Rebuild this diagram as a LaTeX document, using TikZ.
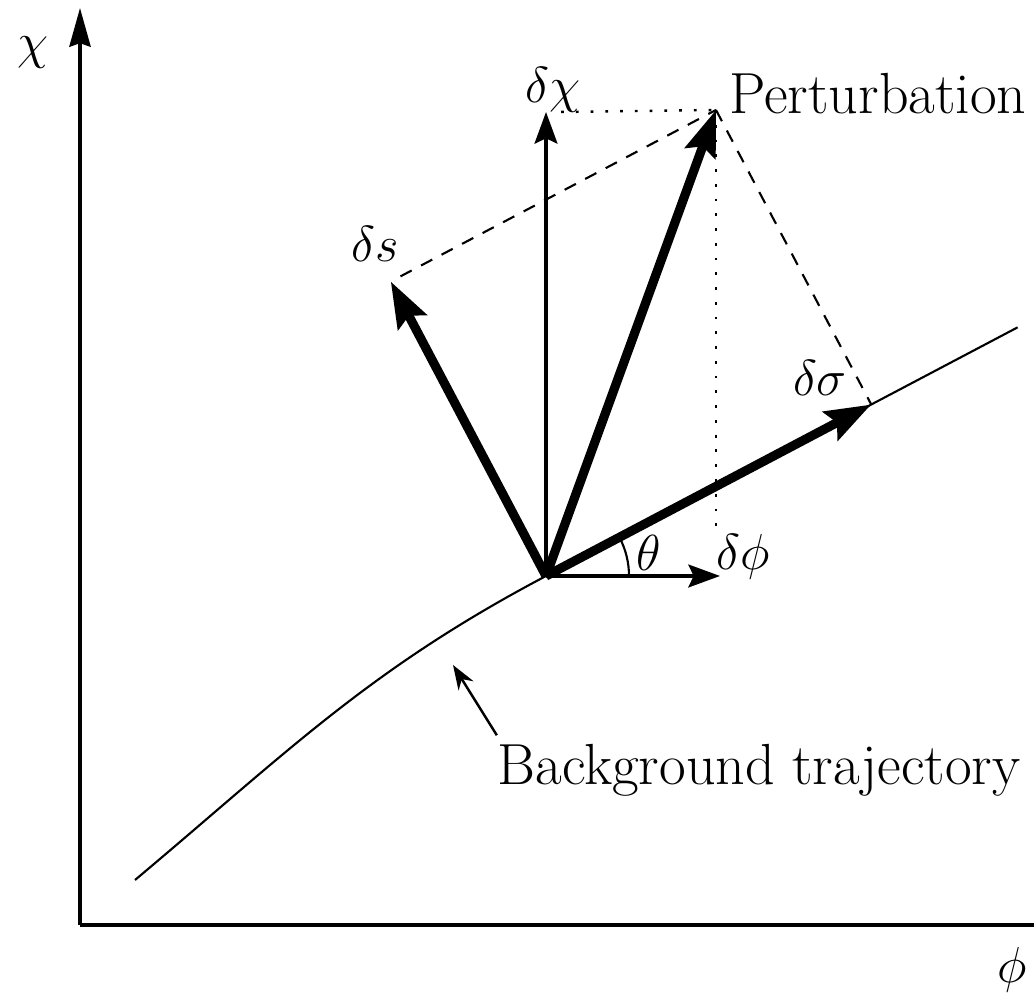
\documentclass[tikz,border=0pt]{standalone}
\usetikzlibrary{arrows.meta,calc,positioning}

\begin{document}
\begin{tikzpicture}[
    axis/.style={-{Stealth[length=11pt,width=6pt,inset=1pt]}, line width=1.1pt},
    thinvec/.style={-{Stealth[length=9pt,width=6.5pt,inset=1.5pt]}, line width=1pt},
    thickvec/.style={-{Stealth[length=13pt,width=9pt,inset=2pt]}, line width=2.6pt},
    proj/.style={dash pattern=on 3.6pt off 3pt, line width=0.6pt},
    dotline/.style={dash pattern=on 0.8pt off 3.4pt, line width=0.7pt},
    traj/.style={line width=0.6pt},
    pointer/.style={-{Stealth[length=7pt,width=5pt]}, line width=0.7pt},
    lbl/.style={font=\fontsize{15}{18}\selectfont, inner sep=0pt},
    txt/.style={font=\fontsize{16.5}{19}\selectfont, inner sep=0pt}
]

% Frame
\useasboundingbox (0,0) rectangle (10.34,9.94);
\clip (0,0) rectangle (10.34,9.94);

% Axes
\coordinate (orig) at (0.80,0.69);
\coordinate (ytop) at (0.80,9.86);
\coordinate (xend) at (10.90,0.69);
\draw[axis] (orig) -- (ytop);
\draw[axis] (orig) -- (xend);
\node[lbl] (chilbl) at (0.33,9.41) {$\chi$};
\node[lbl] (philbl) at (10.12,0.24) {$\phi$};

% Base point and perturbation
\coordinate (O) at (5.46,4.18);
\coordinate (P) at (7.16,8.84);
\coordinate (dchi) at (5.46,8.82);
\coordinate (dphi) at (7.20,4.18);
\coordinate (sigdir) at ($(O)+(27.8:1)$);
\coordinate (sdir) at ($(O)+(117.8:1)$);
\coordinate (dsig) at ($(O)!(P)!(sigdir)$);
\coordinate (ds) at ($(O)!(P)!(sdir)$);

% Background trajectory
\coordinate (trstart) at (1.35,1.14);
\draw[traj] (trstart) to[out=40,in=207.8] (O) -- ($(O)!1.45!(dsig)$);

% Projections
\draw[proj] ($(ds)!0.03!(P)$) -- (P);
\draw[proj] (P) -- (dsig);
\draw[dotline] ($(dchi)+(0.15,0)$) -- (P);
\draw[dotline] (P) -- ($(P|-dphi)+(0,0.42)$);

% Vectors
\draw[thinvec] (O) -- (dchi);
\draw[thinvec] (O) -- (dphi);
\draw[thickvec] (O) -- (P);
\draw[thickvec] (O) -- (ds);
\draw[thickvec] (O) -- (dsig);

% Angle
\draw[line width=0.6pt] ($(O)+(0.83,0)$) arc[start angle=0,end angle=27.8,radius=0.83];

% Labels
\node[lbl] (dchilbl) at (5.53,9.04) {$\delta\chi$};
\node[txt] (perlbl) at (8.78,9.00) {Perturbation};
\node[lbl] (dslbl) at (3.75,7.50) {$\delta s$};
\node[lbl] (dsiglbl) at (8.20,6.16) {$\delta\sigma$};
\node[lbl] (thetalbl) at (6.49,4.41) {$\theta$};
\node[lbl] (dphilbl) at (7.43,4.37) {$\delta\phi$};
\node[txt] (bglbl) at (7.59,2.24) {Background trajectory};

% Pointer to trajectory
\coordinate (bgtip) at (4.53,3.29);
\draw[pointer] ($(bglbl.north west)+(0.0,0.08)$) -- (bgtip);

\end{tikzpicture}
\end{document}
